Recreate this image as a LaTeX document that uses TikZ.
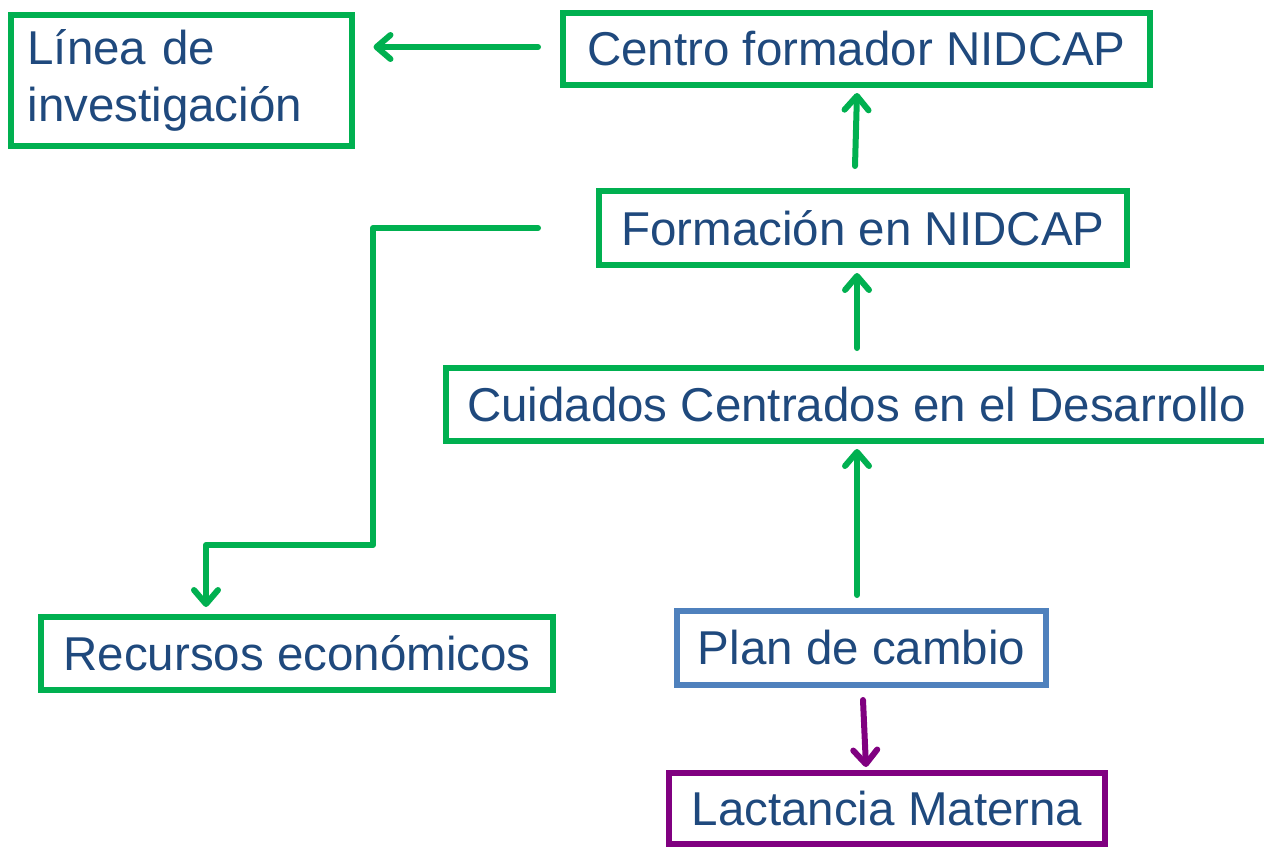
\documentclass[tikz,border=0pt]{standalone}
\usepackage{fontspec}
\setmainfont{Liberation Sans}
\usetikzlibrary{arrows.meta}
\definecolor{gr}{HTML}{00B050}
\definecolor{txt}{HTML}{1F497D}
\definecolor{bl}{HTML}{4F81BD}
\definecolor{pu}{HTML}{800080}
\tikzset{
  box/.style={draw=gr, line width=6pt, inner sep=0pt, text=txt,
    font=\fontsize{47.5}{57}\selectfont},
  arr/.style={draw=gr, line width=6pt, line cap=round, line join=round,
    -{Straight Barb[length=14pt,width=24pt,round]}},
}
\begin{document}
\begin{tikzpicture}[x=1pt,y=-1pt]
\clip (0,0) rectangle (1264,849);
\fill[white] (0,0) rectangle (1264,849);
\node[box, minimum height=131pt, text width=307pt, inner xsep=17pt, align=left] (linea) at (181,80) {Línea de\\investigación};
\node[box, minimum width=587pt, minimum height=72pt] (centro) at (856.5,49) {Centro formador NIDCAP};
\node[box, minimum width=528pt, minimum height=74pt] (formacion) at (863,228) {Formación en NIDCAP};
\node[box, minimum width=821pt, minimum height=73pt] (cuidados) at (856.5,404.5) {Cuidados Centrados en el Desarrollo};
\node[box, minimum width=512pt, minimum height=73pt] (recursos) at (297,653.5) {Recursos económicos};
\node[box, draw=bl, minimum width=369pt, minimum height=74pt] (plan) at (861.5,648) {Plan de cambio};
\node[box, draw=pu, minimum width=436pt, minimum height=71pt] (lactancia) at (887,808.5) {Lactancia Materna};
% free ends of the connectors
\coordinate (s1) at (538,47);
\coordinate (s2) at (855,166);
\coordinate (s3) at (857,348);
\coordinate (s4) at (857,595);
\coordinate (s5) at (863,700);
\coordinate (s6) at (538,228);
\coordinate (c1) at (373,228);
\coordinate (c2) at (373,545);
\coordinate (c3) at (206,545);
\draw[arr] (s1) -- ([xshift=19pt]linea.east |- s1);
\draw[arr] (s2) -- ([xshift=0.5pt,yshift=-5pt]centro.south);
\draw[arr] (s3) -- ([yshift=-5pt]formacion.south -| s3);
\draw[arr] (s4) -- ([yshift=-5pt]cuidados.south -| s4);
\draw[arr, draw=pu] (s5) -- ([xshift=-21pt,yshift=3pt]lactancia.north);
\draw[arr] (s6) -- (c1) -- (c2) -- (c3) -- ([yshift=7pt]recursos.north -| c3);
\end{tikzpicture}
\end{document}
